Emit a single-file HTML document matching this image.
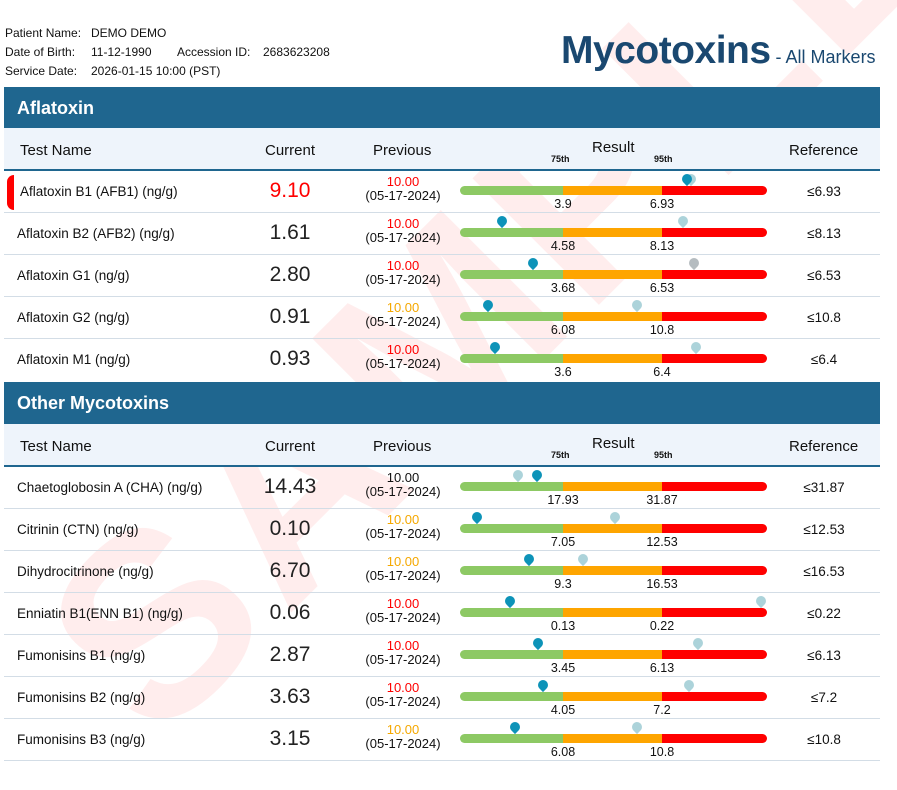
<!DOCTYPE html><html><head><meta charset="utf-8"><style>
*{margin:0;padding:0;box-sizing:border-box}
body{width:897px;height:765px;overflow:hidden;background:#fff;font-family:"Liberation Sans",Arial,sans-serif;color:#111;position:relative}
.a{position:absolute;white-space:nowrap}
.info{font-size:12px;line-height:19px}
.sec{position:absolute;left:4px;width:876px;height:42px;background:#1f668f;color:#fff;font-weight:bold;font-size:18px;padding:11px 0 0 13px}
.hd{position:absolute;left:4px;width:876px;height:43px;background:#eef4fb;border-bottom:2px solid #1f668f;font-size:15px}
.row{position:absolute;left:4px;width:876px;height:42px;border-bottom:1.5px solid #d3dde6}
.nm{position:absolute;left:13px;top:13px;font-size:13.5px}
.cur{position:absolute;left:236px;width:100px;text-align:center;top:8px;font-size:21px;color:#222}
.pv{position:absolute;left:349px;width:100px;text-align:center;top:4px;font-size:13px;line-height:14px}
.bar{position:absolute;left:456px;top:15px;width:307px;height:9px;border-radius:5px;background:linear-gradient(90deg,#8dc964 0,#8dc964 103px,#fea500 103px,#fea500 202px,#ff0000 202px)}
.lb{position:absolute;top:26px;font-size:12.5px;width:60px;text-align:center}
.l1{left:529px}.l2{left:628px}
.ref{position:absolute;left:780px;width:80px;text-align:center;top:13px;font-size:13.5px}
.pin{position:absolute;top:3px;width:10px;height:10px;border-radius:50% 50% 50% 0;transform:rotate(-45deg)}
.d{background:#0d93b8}.l{background:#acd3da}
</style></head><body>
<div class="a" style="left:200px;top:490px;height:300px;line-height:300px;font-size:260px;font-weight:bold;color:rgba(255,0,0,0.07);transform:rotate(-45deg);transform-origin:left bottom;letter-spacing:10px">SAMPLE</div>
<div class="a info" style="left:5px;top:24px">Patient Name:&nbsp;&nbsp;<span style="position:absolute;left:86px">DEMO DEMO</span></div>
<div class="a info" style="left:5px;top:43px">Date of Birth:<span style="position:absolute;left:86px">11-12-1990</span><span style="position:absolute;left:172px">Accession ID:</span><span style="position:absolute;left:258px">2683623208</span></div>
<div class="a info" style="left:5px;top:62px">Service Date:<span style="position:absolute;left:86px">2026-01-15 10:00 (PST)</span></div>
<div class="a" style="left:561px;top:29px;font-size:39px;font-weight:bold;color:#1a4870;letter-spacing:-0.5px">Mycotoxins<span style="font-size:18px;font-weight:normal;letter-spacing:0"> - All Markers</span></div>

<div class="sec" style="top:87px">Aflatoxin</div>
<div class="hd" style="top:128px"><span class="a" style="left:16px;top:14px">Test Name</span><span class="a" style="left:261px;top:14px">Current</span><span class="a" style="left:369px;top:14px">Previous</span><span class="a" style="left:588px;top:11px">Result</span><span class="a" style="left:547px;top:26px;font-size:9px;font-weight:bold">75th</span><span class="a" style="left:650px;top:26px;font-size:9px;font-weight:bold">95th</span><span class="a" style="left:785px;top:14px">Reference</span></div>

<div class="row" style="top:171px"><div class="a" style="left:3px;top:4px;width:7px;height:35px;background:#f00;border-radius:7px 0 0 7px"></div><span class="nm" style="left:16px">Aflatoxin B1 (AFB1) (ng/g)</span><span class="cur" style="color:#f00">9.10</span><span class="pv"><span style="color:#f00">10.00</span><br>(05-17-2024)</span><div class="bar"></div><span class="pin l" style="left:682px"></span><span class="pin d" style="left:678px"></span><span class="lb l1">3.9</span><span class="lb l2">6.93</span><span class="ref">≤6.93</span></div>
<div class="row" style="top:213px"><span class="nm">Aflatoxin B2 (AFB2) (ng/g)</span><span class="cur">1.61</span><span class="pv"><span style="color:#f00">10.00</span><br>(05-17-2024)</span><div class="bar"></div><span class="pin l" style="left:674px"></span><span class="pin d" style="left:493px"></span><span class="lb l1">4.58</span><span class="lb l2">8.13</span><span class="ref">≤8.13</span></div>
<div class="row" style="top:255px"><span class="nm">Aflatoxin G1 (ng/g)</span><span class="cur">2.80</span><span class="pv"><span style="color:#f00">10.00</span><br>(05-17-2024)</span><div class="bar"></div><span class="pin l" style="left:685px;background:#b5bcc0"></span><span class="pin d" style="left:524px"></span><span class="lb l1">3.68</span><span class="lb l2">6.53</span><span class="ref">≤6.53</span></div>
<div class="row" style="top:297px"><span class="nm">Aflatoxin G2 (ng/g)</span><span class="cur">0.91</span><span class="pv"><span style="color:#f5a800">10.00</span><br>(05-17-2024)</span><div class="bar"></div><span class="pin l" style="left:628px"></span><span class="pin d" style="left:479px"></span><span class="lb l1">6.08</span><span class="lb l2">10.8</span><span class="ref">≤10.8</span></div>
<div class="row" style="top:339px;border-bottom:none"><span class="nm">Aflatoxin M1 (ng/g)</span><span class="cur">0.93</span><span class="pv"><span style="color:#f00">10.00</span><br>(05-17-2024)</span><div class="bar"></div><span class="pin l" style="left:687px"></span><span class="pin d" style="left:486px"></span><span class="lb l1">3.6</span><span class="lb l2">6.4</span><span class="ref">≤6.4</span></div>

<div class="sec" style="top:382px">Other Mycotoxins</div>
<div class="hd" style="top:424px"><span class="a" style="left:16px;top:14px">Test Name</span><span class="a" style="left:261px;top:14px">Current</span><span class="a" style="left:369px;top:14px">Previous</span><span class="a" style="left:588px;top:11px">Result</span><span class="a" style="left:547px;top:26px;font-size:9px;font-weight:bold">75th</span><span class="a" style="left:650px;top:26px;font-size:9px;font-weight:bold">95th</span><span class="a" style="left:785px;top:14px">Reference</span></div>

<div class="row" style="top:467px"><span class="nm">Chaetoglobosin A (CHA) (ng/g)</span><span class="cur">14.43</span><span class="pv"><span>10.00</span><br>(05-17-2024)</span><div class="bar"></div><span class="pin l" style="left:509px"></span><span class="pin d" style="left:528px"></span><span class="lb l1">17.93</span><span class="lb l2">31.87</span><span class="ref">≤31.87</span></div>
<div class="row" style="top:509px"><span class="nm">Citrinin (CTN) (ng/g)</span><span class="cur">0.10</span><span class="pv"><span style="color:#f5a800">10.00</span><br>(05-17-2024)</span><div class="bar"></div><span class="pin l" style="left:606px"></span><span class="pin d" style="left:468px"></span><span class="lb l1">7.05</span><span class="lb l2">12.53</span><span class="ref">≤12.53</span></div>
<div class="row" style="top:551px"><span class="nm">Dihydrocitrinone (ng/g)</span><span class="cur">6.70</span><span class="pv"><span style="color:#f5a800">10.00</span><br>(05-17-2024)</span><div class="bar"></div><span class="pin l" style="left:574px"></span><span class="pin d" style="left:520px"></span><span class="lb l1">9.3</span><span class="lb l2">16.53</span><span class="ref">≤16.53</span></div>
<div class="row" style="top:593px"><span class="nm">Enniatin B1(ENN B1) (ng/g)</span><span class="cur">0.06</span><span class="pv"><span style="color:#f00">10.00</span><br>(05-17-2024)</span><div class="bar"></div><span class="pin l" style="left:752px"></span><span class="pin d" style="left:501px"></span><span class="lb l1">0.13</span><span class="lb l2">0.22</span><span class="ref">≤0.22</span></div>
<div class="row" style="top:635px"><span class="nm">Fumonisins B1 (ng/g)</span><span class="cur">2.87</span><span class="pv"><span style="color:#f00">10.00</span><br>(05-17-2024)</span><div class="bar"></div><span class="pin l" style="left:689px"></span><span class="pin d" style="left:529px"></span><span class="lb l1">3.45</span><span class="lb l2">6.13</span><span class="ref">≤6.13</span></div>
<div class="row" style="top:677px"><span class="nm">Fumonisins B2 (ng/g)</span><span class="cur">3.63</span><span class="pv"><span style="color:#f00">10.00</span><br>(05-17-2024)</span><div class="bar"></div><span class="pin l" style="left:680px"></span><span class="pin d" style="left:534px"></span><span class="lb l1">4.05</span><span class="lb l2">7.2</span><span class="ref">≤7.2</span></div>
<div class="row" style="top:719px"><span class="nm">Fumonisins B3 (ng/g)</span><span class="cur">3.15</span><span class="pv"><span style="color:#f5a800">10.00</span><br>(05-17-2024)</span><div class="bar"></div><span class="pin l" style="left:628px"></span><span class="pin d" style="left:506px"></span><span class="lb l1">6.08</span><span class="lb l2">10.8</span><span class="ref">≤10.8</span></div>
</body></html>
